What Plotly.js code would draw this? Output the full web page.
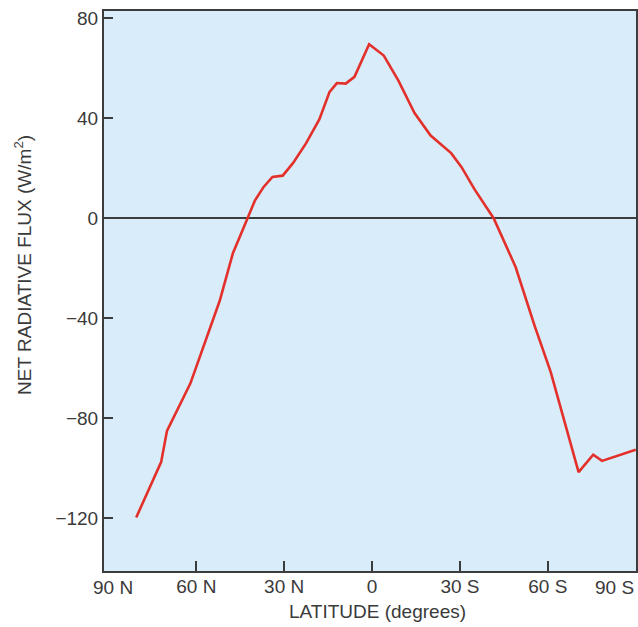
<!DOCTYPE html>
<html>
<head>
<meta charset="utf-8">
<script src="https://cdn.plot.ly/plotly-3.0.1.min.js"></script>
<style>html,body{margin:0;padding:0;background:#fff;}#chart{width:638px;height:627px;}</style>
</head>
<body>
<div id="chart"></div>
<script>
// Latitude in degrees (positive = North, negative = South)
const latitude = [80.5, 72, 70, 62, 52, 47.5, 42.5, 40, 37, 34, 30.5, 27, 22.5, 18, 14.5, 12, 9, 6, 1,
                  -4, -9, -14.5, -20, -27, -30.5, -35, -41.5, -49, -55.5, -61, -70.5, -75.5, -78.5, -90];
// Net radiative flux (W/m^2)
const netFlux = [-119.6, -97.5, -85, -66, -33, -14, 0, 7, 12.5, 16.5, 17, 22, 30, 39.5, 50.5, 54, 53.8, 56.5, 69.5,
                 65, 55, 42, 33, 26, 20.5, 11.5, 0, -19.5, -43, -61.5, -101.5, -94.5, -97, -92.5];

const xTickVals = [60, 30, 0, -30, -60];
const xTickText = ['60 N', '30 N', '0', '30 S', '60 S'];
const xEndVals = [90, -90];
const xEndText = ['90 N', '90 S'];
const yTickVals = [80, 40, 0, -40, -80, -120];
const yTickText = ['80', '40', '0', '\u221240', '\u221280', '\u2212120'];

const xTitle = 'LATITUDE (degrees)';
const yTitle = 'NET RADIATIVE FLUX (W/m<sup>2</sup>)';

const textColor = '#3a3a3a';
const fontFam = 'Liberation Sans, Arial, Helvetica, sans-serif';
const fontSize = 19;

const trace = {
  x: latitude, y: netFlux, type: 'scatter', mode: 'lines',
  line: {color: '#e3302a', width: 2.6, shape: 'linear'},
  hoverinfo: 'skip', showlegend: false
};

const annotations = [
  {xref: 'x', yref: 'paper', x: xEndVals[0], y: 0, yshift: -4, xshift: 5,
   xanchor: 'center', yanchor: 'top', text: xEndText[0], showarrow: false,
   font: {family: fontFam, size: fontSize, color: textColor}},
  {xref: 'x', yref: 'paper', x: xEndVals[1], y: 0, yshift: -4, xshift: 0,
   xanchor: 'right', yanchor: 'top', text: xEndText[1], showarrow: false,
   font: {family: fontFam, size: fontSize, color: textColor}},
  {xref: 'paper', yref: 'paper', x: 0.515, y: -0.073, xanchor: 'center', yanchor: 'middle',
   text: xTitle, showarrow: false, font: {family: fontFam, size: fontSize, color: textColor}},
  {xref: 'paper', yref: 'paper', x: -0.151, y: 0.546, xanchor: 'center', yanchor: 'middle',
   textangle: -90, text: yTitle, showarrow: false, font: {family: fontFam, size: fontSize, color: textColor}}
];

const layout = {
  width: 638, height: 627,
  margin: {l: 104, r: 2, t: 11, b: 56},
  paper_bgcolor: '#ffffff',
  plot_bgcolor: '#d9ecf9',
  font: {family: fontFam, size: fontSize, color: textColor},
  xaxis: {
    range: [91.5, -90.1], tickmode: 'array', tickvals: xTickVals, ticktext: xTickText,
    ticks: 'inside', ticklen: 10, tickwidth: 2, tickcolor: '#3c3c3c',
    ticklabelstandoff: -3,
    showline: true, linecolor: '#3c3c3c', linewidth: 2, mirror: true,
    showgrid: false, zeroline: false, fixedrange: true,
    tickfont: {family: fontFam, size: fontSize, color: textColor}
  },
  yaxis: {
    range: [-141, 82.8], tickmode: 'array', tickvals: yTickVals, ticktext: yTickText,
    ticks: 'inside', ticklen: 9, tickwidth: 2, tickcolor: '#3c3c3c',
    showline: true, linecolor: '#3c3c3c', linewidth: 2, mirror: true,
    showgrid: false, zeroline: true, zerolinecolor: '#3c3c3c', zerolinewidth: 2,
    fixedrange: true,
    tickfont: {family: fontFam, size: fontSize, color: textColor}
  },
  annotations: annotations,
  showlegend: false
};

Plotly.newPlot('chart', [trace], layout, {displayModeBar: false, staticPlot: true});
</script>
</body>
</html>
